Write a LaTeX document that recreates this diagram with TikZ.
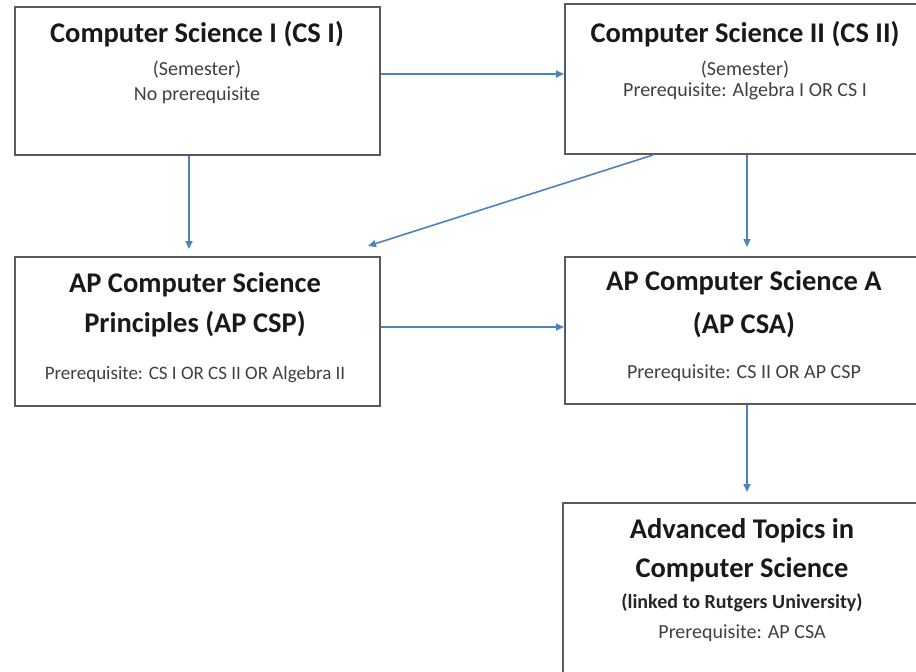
\documentclass[tikz,border=0pt]{standalone}
\usepackage{fontspec}
\setmainfont{Carlito}
\usetikzlibrary{arrows.meta}
\definecolor{boxgray}{HTML}{5A5A5A}
\definecolor{arrowblue}{HTML}{4F81BD}
\definecolor{textgray}{HTML}{404040}
\tikzset{
	course/.style={draw=boxgray, line width=2pt, inner sep=0pt},
	coursetitle/.style={anchor=base, font=\fontsize{28.5}{30}\selectfont\bfseries, text=black!90},
	courseinfo/.style={anchor=base, font=\fontsize{20}{22}\selectfont, text=textgray},
	link/.style={draw=arrowblue, line width=1.6pt, -{Triangle[length=8pt,width=7pt]}},
}
\begin{document}
\begin{tikzpicture}[x=1pt, y=-1pt]
	\useasboundingbox (0, 0) rectangle (916, 672);
	\clip (0, 0) rectangle (916, 672);
	% boxes
	\node[course, minimum width=365pt, minimum height=148pt] at (197.5, 81) (cs1) {};
	\node[course, minimum width=360pt, minimum height=150pt] at (745, 79) (cs2) {};
	\node[course, minimum width=365pt, minimum height=149pt] at (197.5, 331.5) (csp) {};
	\node[course, minimum width=360pt, minimum height=147pt] at (745, 330.5) (csa) {};
	\node[course, minimum width=362pt, minimum height=187pt] at (744, 596.5) (adv) {};
	% texts
	\node[coursetitle] at (197, 42) (cs1title) {Computer Science I (CS I)};
	\node[courseinfo] at (197, 75) (cs1sem) {(Semester)};
	\node[courseinfo] at (197, 100) (cs1pre) {No prerequisite};
	\node[coursetitle] at (745, 42) (cs2title) {Computer Science II (CS II)};
	\node[courseinfo] at (745, 75) (cs2sem) {(Semester)};
	\node[courseinfo] at (745, 96) (cs2pre) {Prerequisite: Algebra I OR CS I};
	\node[coursetitle] at (195, 292) (csptitle) {AP Computer Science};
	\node[coursetitle] at (195, 332) (cspabbr) {Principles (AP CSP)};
	\node[courseinfo, font=\fontsize{19}{21}\selectfont] at (195, 379) (csppre) {Prerequisite: CS I OR CS II OR Algebra II};
	\node[coursetitle] at (744, 290) (csatitle) {AP Computer Science A};
	\node[coursetitle] at (744, 333) (csaabbr) {(AP CSA)};
	\node[courseinfo] at (744, 378) (csapre) {Prerequisite: CS II OR AP CSP};
	\node[coursetitle] at (742, 538) (advtitle) {Advanced Topics in};
	\node[coursetitle] at (742, 577) (advname) {Computer Science};
	\node[courseinfo, font=\fontsize{20}{22}\selectfont\bfseries, text=black!85] at (742, 608) (advlink) {(linked to Rutgers University)};
	\node[courseinfo] at (742, 638) (advpre) {Prerequisite: AP CSA};
	% arrows
	\draw[link] ([yshift=7pt]cs1.east) -- ([yshift=5pt]cs2.west);
	\draw[link, shorten >=7pt] ([xshift=-8.5pt]cs1.south) -- ([xshift=-8.5pt]csp.north);
	\draw[link, shorten >=9pt] ([xshift=2pt]cs2.south) -- ([xshift=2pt]csa.north);
	\draw[link] ([xshift=-92pt]cs2.south) -- ([shift={(-13pt,10pt)}]csp.north east);
	\draw[link] ([yshift=4.5pt]csp.east) -- ([yshift=3.5pt]csa.west);
	\draw[link, shorten >=10pt] ([xshift=2pt]csa.south) -- ([xshift=3pt]adv.north);
\end{tikzpicture}
\end{document}
